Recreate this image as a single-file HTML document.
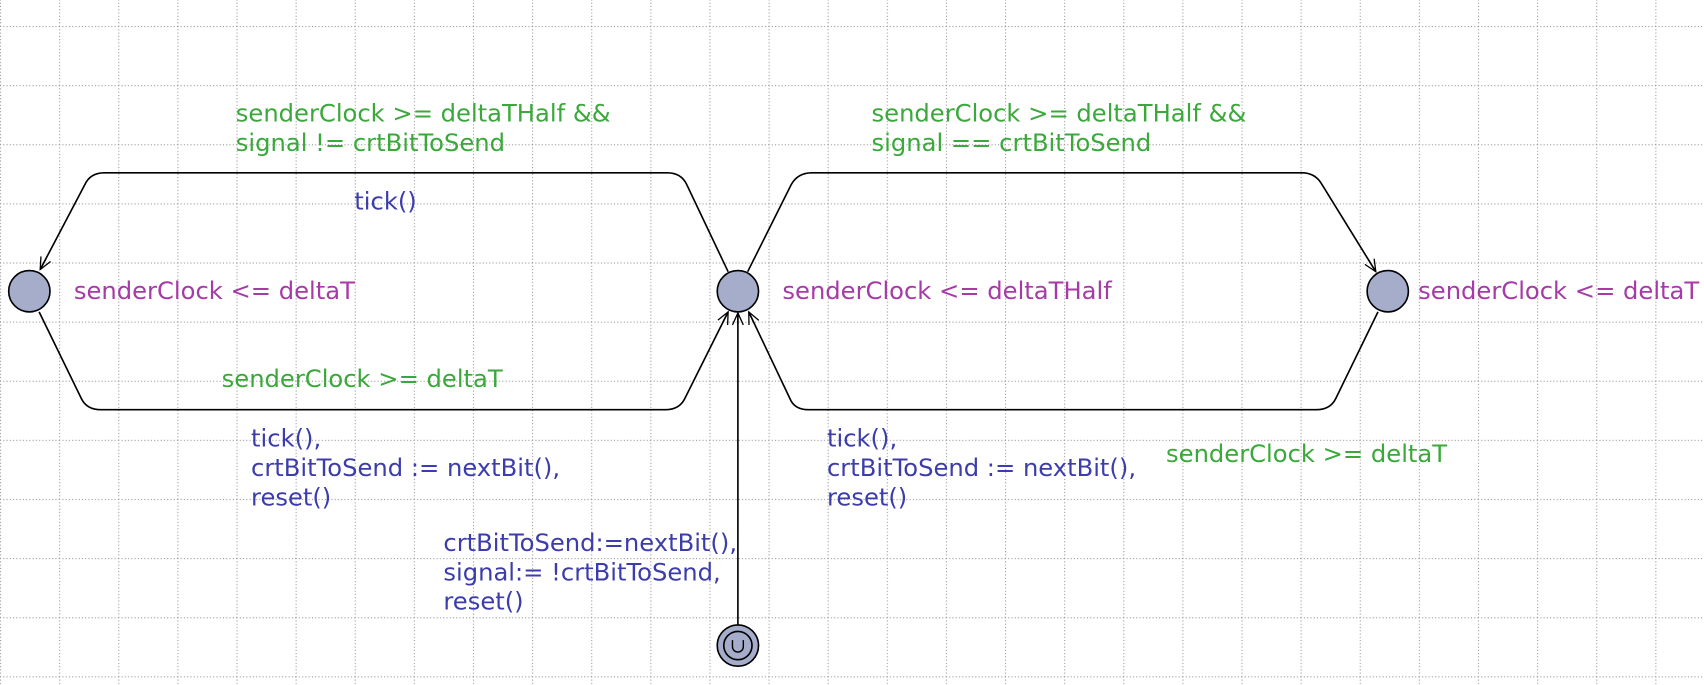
<!DOCTYPE html>
<html><head><style>html,body{margin:0;padding:0;background:#fff}svg{display:block}</style></head>
<body>
<svg width="1704" height="685" viewBox="0 0 1568 630.3" preserveAspectRatio="none" xmlns="http://www.w3.org/2000/svg" font-family="DejaVu Sans, Liberation Sans, sans-serif" font-size="22.3">
<defs>
<pattern id="g" x="0" y="23.9" width="54.4" height="54.4" patternUnits="userSpaceOnUse">
<path d="M0 0.5H54.4M0.5 0V54.4" stroke="#999" stroke-width="1" stroke-dasharray="1 2" fill="none"/>
</pattern>
<marker id="a" markerWidth="14" markerHeight="14" refX="12" refY="7" orient="auto" markerUnits="userSpaceOnUse">
<path d="M1 2 L12 7 L1 12 M12 7 L1 7" stroke="#000" fill="none" stroke-width="1.2"/>
</marker>
</defs>
<rect width="1568" height="630.3" fill="url(#g)"/>
<g stroke="#000" stroke-width="1.5" fill="none">
<path d="M670 250 L632 170 Q627 159 614 159 L96 159 Q83 159 78 170 L37 248" marker-end="url(#a)"/>
<path d="M36 287 L75 367 Q80 377 93 377 L612 377 Q625 377 630 367 L670 287" marker-end="url(#a)"/>
<path d="M688 250 L728 170 Q734 159 747 159 L1198 159 Q1210 159 1216 169 L1266 250" marker-end="url(#a)"/>
<path d="M1268 287 L1229 367 Q1224 377 1211 377 L744 377 Q731 377 727 367 L689 287" marker-end="url(#a)"/>
<path d="M679 575 L679 288" marker-end="url(#a)"/>
</g>
<g fill="#a5adcb" stroke="#000" stroke-width="1.5">
<circle cx="27" cy="268" r="19"/>
<circle cx="679" cy="268" r="19"/>
<circle cx="1277" cy="268" r="19"/>
<circle cx="679" cy="594" r="19"/>
<circle cx="679" cy="594" r="13" fill="none"/>
</g>
<path d="M674 589 v6 a5 5 0 0 0 10 0 v-6" stroke="#000" fill="none" stroke-width="1.3"/>
<g fill="#a63aa6">
<text x="68" y="275">senderClock &lt;= deltaT</text>
<text x="720" y="275">senderClock &lt;= deltaTHalf</text>
<text x="1305" y="275">senderClock &lt;= deltaT</text>
</g>
<g fill="#3aa83a">
<text x="217" y="112">senderClock &gt;= deltaTHalf &amp;&amp;</text>
<text x="217" y="139">signal != crtBitToSend</text>
<text x="802" y="112">senderClock &gt;= deltaTHalf &amp;&amp;</text>
<text x="802" y="139">signal == crtBitToSend</text>
<text x="204" y="356">senderClock &gt;= deltaT</text>
<text x="1073" y="425">senderClock &gt;= deltaT</text>
</g>
<g fill="#3c3caa">
<text x="326" y="193">tick()</text>
<text x="231" y="411">tick(),</text>
<text x="231" y="438">crtBitToSend := nextBit(),</text>
<text x="231" y="465">reset()</text>
<text x="761" y="411">tick(),</text>
<text x="761" y="438">crtBitToSend := nextBit(),</text>
<text x="761" y="465">reset()</text>
<text x="408" y="507">crtBitToSend:=nextBit(),</text>
<text x="408" y="534">signal:= !crtBitToSend,</text>
<text x="408" y="561">reset()</text>
</g>
</svg>
</body></html>
